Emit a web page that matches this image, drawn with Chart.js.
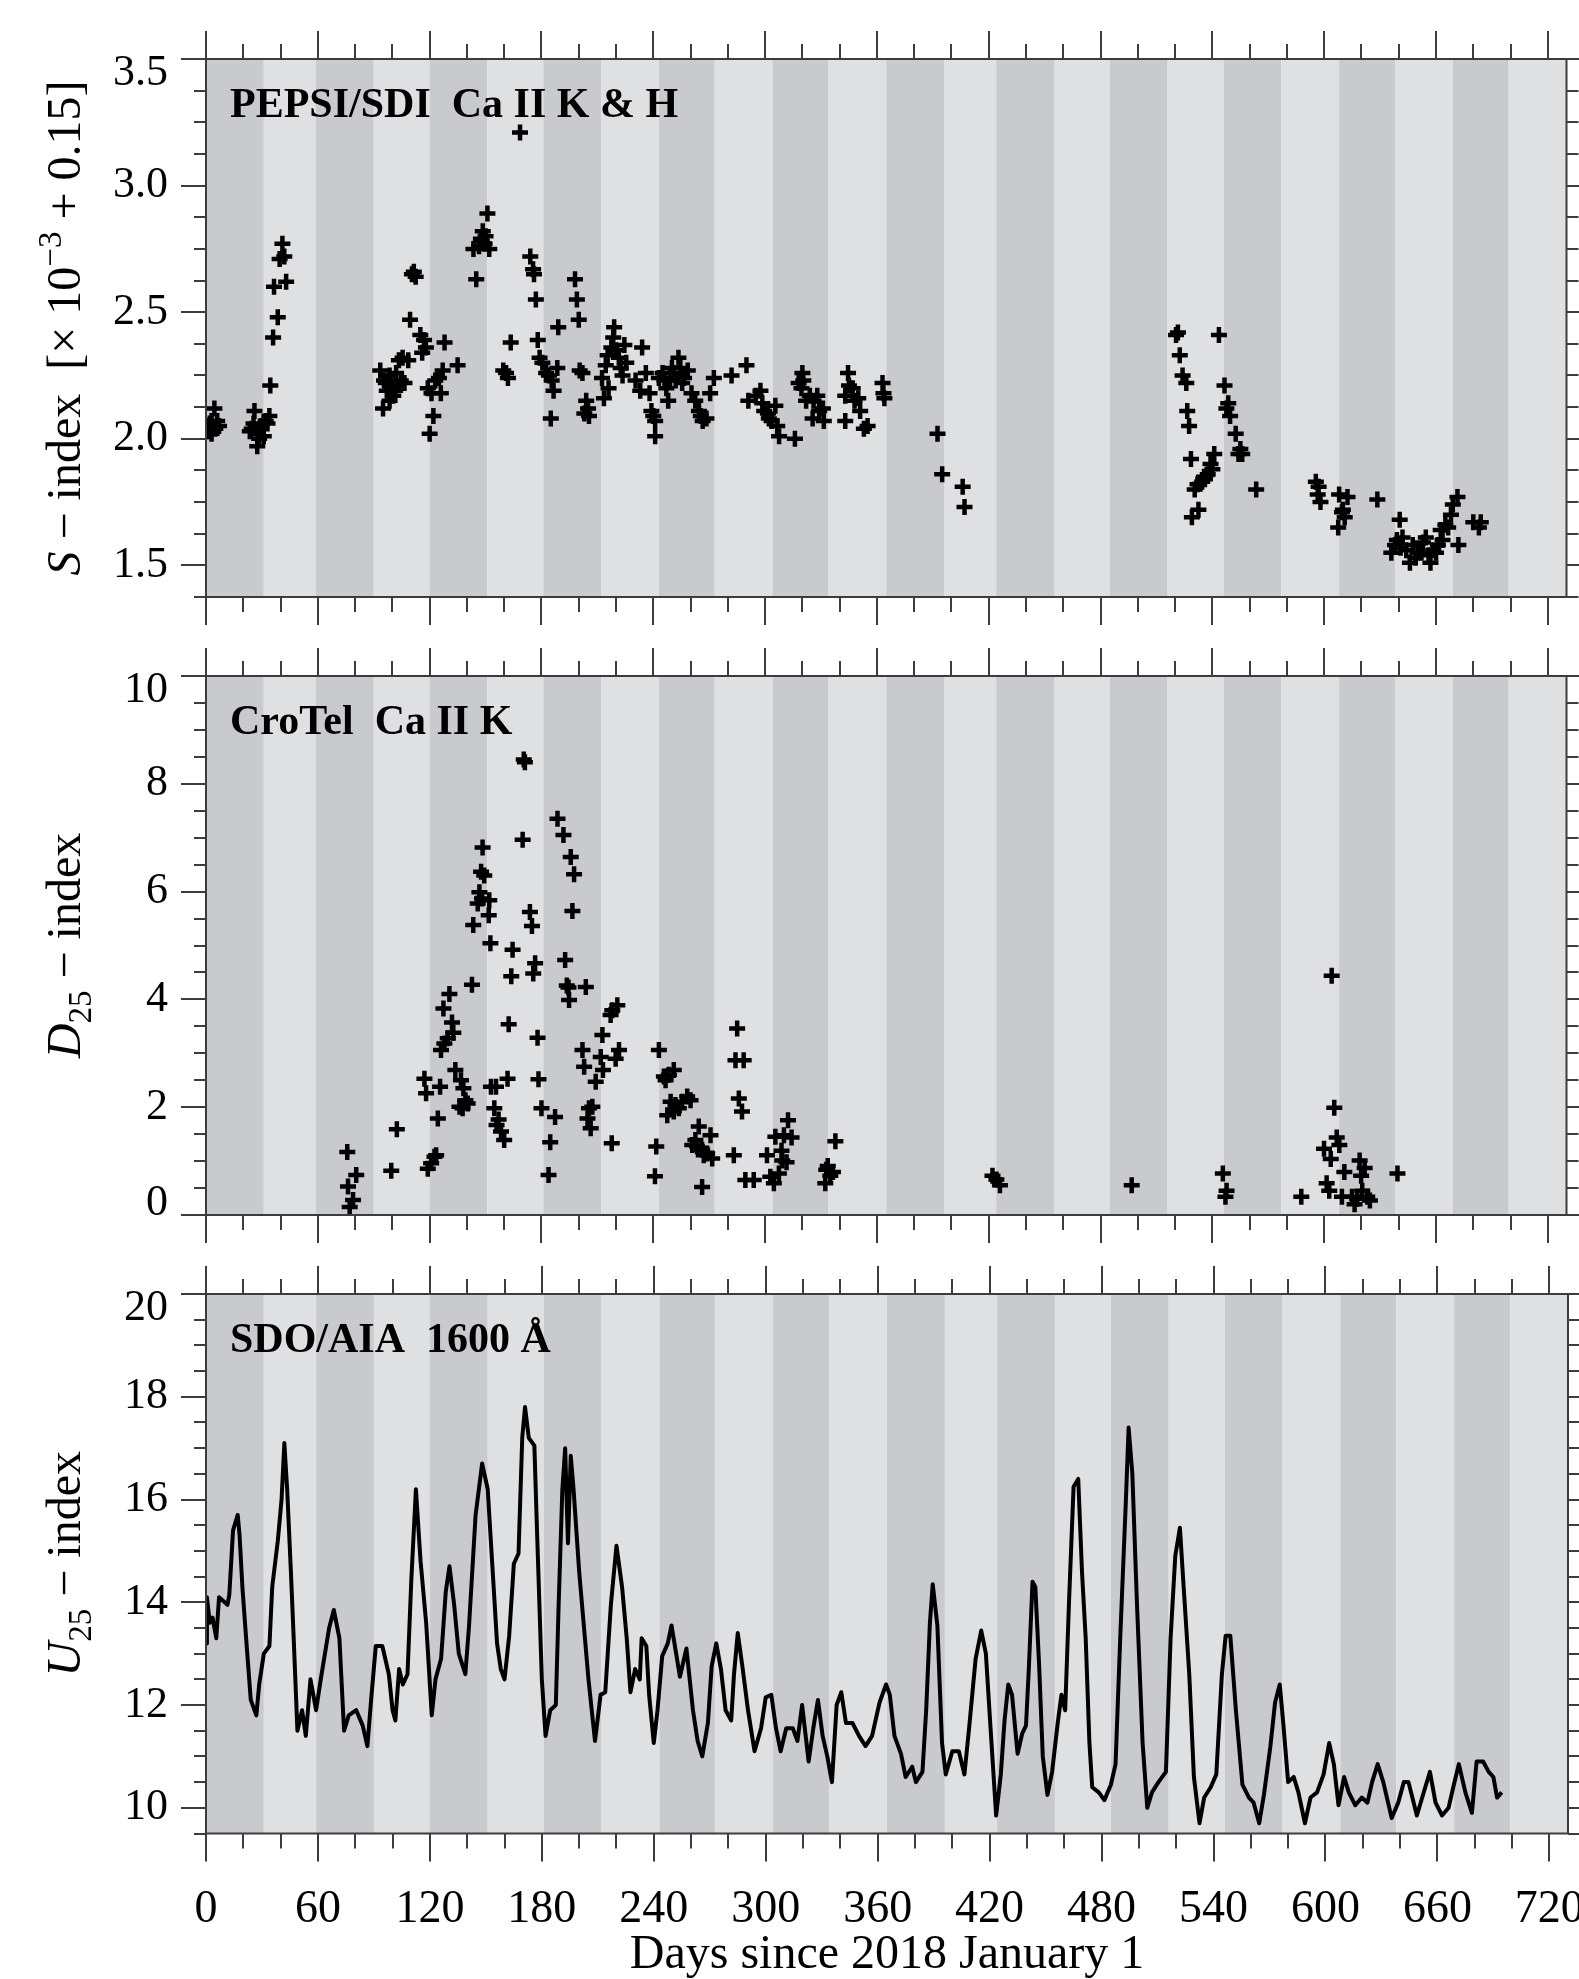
<!DOCTYPE html>
<html>
<head>
<meta charset="utf-8">
<title>S, D25 and U25 indices</title>
<script src="https://cdn.jsdelivr.net/npm/chart.js@4.4.1/dist/chart.umd.min.js"></script>
<style>
  html, body { margin: 0; padding: 0; background: #fff; }
  body { width: 1579px; height: 1979px; position: relative; overflow: hidden; }
  canvas { position: absolute; left: 0; }
</style>
</head>
<body>
<canvas id="chartS" width="1579" height="640" style="top:0px"></canvas>
<canvas id="chartD" width="1579" height="620" style="top:640px"></canvas>
<canvas id="chartU" width="1579" height="719" style="top:1260px"></canvas>
<script>
// month edges (days since 2018 Jan 1) for the grey bands
const monthEdges = [0, 31, 59, 90, 120, 151, 181, 212, 243, 273, 304, 334, 365,
  396, 424, 455, 485, 516, 546, 577, 608, 638, 669, 699, 730];

// x axis tick labels
const xTicks = [0, 60, 120, 180, 240, 300, 360, 420, 480, 540, 600, 660, 720];
const xTickLabels = ['0', '60', '120', '180', '240', '300', '360', '420', '480', '540', '600', '660', '720'];

// y axis ticks per panel
const sTicks = [1.5, 2.0, 2.5, 3.0, 3.5];
const sTickLabels = ['1.5', '2.0', '2.5', '3.0', '3.5'];
const dTicks = [0, 2, 4, 6, 8, 10];
const dTickLabels = ['0', '2', '4', '6', '8', '10'];
const uTicks = [10, 12, 14, 16, 18, 20];
const uTickLabels = ['10', '12', '14', '16', '18', '20'];

// PEPSI/SDI S-index [day, value]
const pepsiS = [
  [0,2.03],[1,2.05],[2,2.03],[2,2.06],[3,2.07],[3,2.02],[4.5,2.12],[5,2.04],[6,2.07],[7,2.05],
  [23.5,2.03],[24.5,2.04],[25.5,2.06],[26,2.11],[27.5,2.02],[27.5,1.97],[28.5,2.0],[29.5,2.05],[31,2.01],[32,2.07],[33,2.06],[34,2.09],
  [34.5,2.21],[36,2.40],[36.5,2.60],[38.5,2.48],[39.5,2.71],[41,2.77],[42,2.72],[43,2.62],
  [93.5,2.27],[95,2.12],[95.5,2.23],[96.5,2.22],[97,2.19],[98.5,2.25],[98.5,2.15],[99.5,2.21],[100.5,2.2],[100.5,2.17],
  [101.5,2.19],[102,2.26],[103.5,2.31],[104.5,2.23],[105.5,2.32],[106.5,2.22],[108.5,2.31],[109.5,2.47],[110.5,2.65],[111.5,2.66],
  [112.5,2.64],[115,2.41],[116,2.34],[117,2.39],[118,2.36],[119,2.2],[120,2.02],[121,2.18],[122,2.09],[123,2.23],
  [125,2.24],[126,2.18],[127,2.27],[128,2.38],[135,2.29],
  [143.5,2.75],[145,2.63],[146.5,2.76],[147.5,2.79],[148,2.78],[148.5,2.82],[149.5,2.77],[150,2.8],[151,2.89],[152,2.75],
  [159.5,2.27],[161,2.26],[162,2.24],[163.5,2.38],[168.5,3.21],
  [174,2.72],[175.5,2.67],[176,2.65],[177,2.55],[178,2.39],[179,2.32],[180.5,2.3],[182.5,2.26],[184,2.25],[185,2.08],
  [185.5,2.23],[186.5,2.19],[188.5,2.28],[189,2.44],
  [198,2.63],[199,2.55],[200,2.47],[200.5,2.27],[202,2.26],[203,2.1],[204,2.15],[205,2.12],[205.5,2.09],
  [212.5,2.24],[213.5,2.16],[214.5,2.29],[215.5,2.33],[216,2.2],[217.5,2.36],[218.5,2.40],[219,2.44],[220,2.35],[221.5,2.32],
  [222.5,2.28],[223.5,2.25],[224.5,2.37],[225.5,2.3],
  [230.5,2.23],[233,2.19],[234,2.36],[236,2.26],[238,2.18],[239,2.11],[240,2.09],[241,2.07],[241,2.01],
  [243,2.24],[245,2.26],[246,2.23],[247,2.2],[248,2.15],[249,2.24],[250,2.28],[251,2.26],[252,2.23],[253.5,2.32],
  [254.5,2.28],[255.5,2.22],[256.5,2.24],[258.5,2.27],
  [260.5,2.18],[262.5,2.15],[264.5,2.11],[265.5,2.09],[266.5,2.07],[268.5,2.08],[270.5,2.18],[272.5,2.24],
  [282,2.25],[290,2.29],[291,2.15],[295,2.17],[297.5,2.19],[298.5,2.14],[299.5,2.11],[301.5,2.1],[302,2.08],[303.5,2.07],
  [305.5,2.13],[306.5,2.05],[307.5,2.01],
  [316,2.0],[318,2.22],[319.5,2.2],[320,2.26],[320.5,2.23],[322,2.15],[324,2.17],[325.5,2.08],[326,2.15],[328,2.17],
  [329,2.11],[331,2.12],[331.5,2.07],
  [343,2.17],[343,2.07],[344.5,2.26],[345,2.21],[347,2.2],[348,2.15],[350,2.16],[351,2.11],[353,2.04],[355,2.05],
  [363,2.22],[363.5,2.18],[364,2.16],
  [392.5,2.02],[395,1.86],[406,1.81],[407,1.73],
  [520.5,2.41],[521.5,2.42],[522.5,2.33],[524,2.25],[526,2.22],[526.5,2.11],[527.5,2.05],[528.5,1.92],[529,1.69],[530.5,1.8],
  [532,1.82],[532.5,1.72],[534.5,1.83],[535.5,1.85],[536,1.84],[537.5,1.86],[539,1.9],[540,1.88],[541,1.94],
  [543.5,2.41],[546.5,2.21],[547.5,2.12],[548.5,2.14],[549.5,2.09],[552.5,2.02],[554,1.94],[555,1.96],[556,1.94],[563.5,1.8],
  [595.5,1.83],[596.5,1.78],[597,1.81],[598,1.75],[607.5,1.65],[608,1.78],[609.5,1.71],[610,1.72],[611,1.69],[612.5,1.77],[628.5,1.76],
  [636,1.55],[638,1.58],[639,1.6],[640.5,1.68],[641,1.57],[642,1.61],[644,1.56],[646,1.51],[647.5,1.58],[649,1.53],
  [650,1.55],[652,1.55],[653,1.59],[654.5,1.61],[656,1.54],[657,1.51],[658.5,1.56],[660,1.55],[661,1.58],[662.5,1.64],
  [663.5,1.6],[665,1.66],[666.5,1.65],[668,1.7],[669,1.74],[671.5,1.77],[672,1.58],[680,1.67],[683,1.65],[684,1.67]
];

// CroTel D25-index [day, value]
const crotelD = [
  [75.8,1.17],[76.2,0.53],[77.1,0.15],[78.9,0.28],[80.6,0.74],
  [99.4,0.82],[102.4,1.59],
  [117.2,2.53],[118.1,2.26],[119,0.86],[120.8,0.96],[122.6,1.08],[123.5,1.11],[124.4,1.79],[125.6,2.38],
  [126.1,3.06],[127.4,3.83],[127.9,3.18],[129.7,3.28],[130.6,4.1],[132,3.57],[132.7,3.38],
  [133.8,2.69],[136,2.01],[136.8,2.5],[137.7,1.98],[138.1,2.35],[139.2,2.13],[140.4,2.07],
  [142.7,4.27],[143.4,5.38],[145.8,5.78],[146.7,5.99],[147.6,6.37],[148.1,5.87],[148.4,6.82],[149.3,6.3],[151.7,5.56],[152,5.84],[152.6,5.04],
  [152.9,2.38],[154.7,1.98],[155.6,2.38],[155.9,1.67],[157,1.77],[158.3,1.55],[160,1.39],[161.8,2.53],
  [162.4,3.54],[163.8,4.43],[164.5,4.92],[169.9,6.96],[170.5,8.45],[171.1,8.4],
  [173.8,5.62],[174.9,5.36],[175.6,4.48],[176.6,4.67],[177.9,3.29],[178.4,2.52],[180,1.98],[183.8,0.74],[184.7,1.35],[187.3,1.82],
  [188.6,7.35],[191.8,7.05],[192.7,4.73],[193.6,4.26],[194.5,4.22],[194.8,3.99],[195.7,6.64],[196.6,5.64],[197.5,6.32],
  [202,3.06],[202.9,2.75],[203.8,4.23],[204.7,1.79],[205.5,1.98],[206.4,1.61],[207.3,2.01],[209.1,2.47],[211.8,2.93],
  [212.7,3.34],[213,2.69],[217.1,3.71],[217.7,1.33],[218,3.8],[219.8,2.9],[220.7,3.89],[221.6,3.06],
  [240.9,0.72],[241.6,1.27],[243,3.06],
  [245.7,2.57],[246.6,2.5],[247.5,1.85],[248.4,2.6],[249.3,2.1],[251,2.69],[251,1.92],[251.9,2.04],[253.7,1.98],[255.5,2.1],[258.2,2.2],[260,2.13],
  [260.9,1.3],[262.6,1.39],[263.5,1.27],[264.4,1.64],[266.2,1.21],[266.2,0.52],[267.1,1.11],[268.9,1.14],[270.7,1.48],[271.6,1.05],
  [283.2,1.11],[284.1,2.87],[285,3.46],[285.9,2.16],[287.6,1.92],[288.5,2.87],
  [289.4,0.65],[293.9,0.65],[301,1.11],[302.8,0.71],[304.7,0.59],[305.5,1.45],[307.4,0.77],[308.8,1.19],[309.2,1.01],
  [310.1,1.48],[311.5,0.98],[312.3,1.76],[314.2,1.44],
  [332.3,0.59],[332.8,0.84],[333.6,0.91],[335,0.73],[336.4,0.8],[337.7,1.37],
  [422,0.73],[424.1,0.66],[426,0.55],
  [496.7,0.55],
  [545.6,0.77],[547,0.34],[547.6,0.45],
  [587.7,0.34],
  [599.9,1.23],[601.3,0.59],[602.7,0.45],[603.5,1.04],[604,4.44],[605.4,1.99],[606.7,1.44],[608.1,1.3],[609.5,0.34],[610.8,0.8],
  [614.9,0.34],[616.3,0.2],[617.7,0.3],[619,1.01],[619.8,0.73],[620.4,0.45],[621.7,0.87],[623.1,0.34],[624.5,0.27],[639.3,0.77]
];

// SDO/AIA 1600 A U25-index [day, value]
const aiaU = [
  [0,13.2],[0.5,14.1],[2,13.6],[3.5,13.7],[5.5,13.3],[7,14.1],[10,14.0],[11.5,13.95],[12.5,14.15],[14.5,15.4],
  [17,15.7],[18,15.3],[19.5,14.3],[21.5,13.3],[24,12.1],[27,11.8],[28.5,12.4],[31,13.0],[34,13.15],[35.5,14.3],
  [38.5,15.2],[40.5,16.0],[42,17.1],[43.5,16.2],[45.5,14.6],[47,13.3],[49,11.5],[51.5,11.9],[53.5,11.4],[56,12.5],
  [59,11.9],[61.5,12.5],[66,13.5],[68.5,13.85],[71.5,13.3],[74,11.5],[76.5,11.8],[80.5,11.9],[84,11.6],[86.5,11.2],
  [88.5,12.1],[91,13.15],[94.5,13.15],[98,12.6],[100,11.9],[101.5,11.7],[103.5,12.7],[105.5,12.4],[108,12.6],[110,14.4],
  [112.5,16.2],[115,14.8],[118,13.6],[121,11.8],[123,12.5],[126,12.9],[128.5,14.2],[130.5,14.7],[133,13.95],[135.5,13.0],
  [139,12.6],[141,13.55],[144.5,15.7],[148,16.7],[151,16.2],[153.5,14.7],[156,13.2],[158,12.7],[160,12.5],[162.5,13.35],
  [165,14.75],[167.5,14.95],[169.5,17.2],[171,17.8],[173,17.2],[176,17.05],[177.5,15.3],[180,12.5],[182,11.4],[184.5,11.9],
  [187.5,12.0],[189,13.95],[191,16.2],[192.5,17.0],[194,15.15],[195.5,16.85],[197,16.2],[200,14.6],[202.5,13.55],[205,12.5],
  [208.5,11.3],[211.5,12.2],[214,12.25],[217,13.95],[220,15.1],[223,14.3],[225.5,13.3],[227.5,12.25],[230,12.7],
  [232.5,12.5],[233.5,13.3],[236,13.15],[237.5,12.2],[240,11.26],[242,11.9],[244.5,12.95],[247.5,13.2],[249.5,13.55],[252,13.0],
  [254,12.55],[257.5,13.1],[261,11.9],[263.5,11.3],[266,11.0],[269,11.65],[271,12.75],[273.5,13.2],[276,12.7],[278.5,11.9],
  [281.5,11.7],[283,12.6],[285,13.4],[287.5,12.75],[290.5,11.9],[294,11.1],[297.5,11.55],[300,12.15],[303,12.2],[305.5,11.55],
  [308,11.1],[311,11.55],[314.5,11.55],[317,11.3],[319.5,12.0],[323,10.9],[325.5,11.55],[328,12.1],[330.5,11.4],[333,11.0],
  [335.5,10.5],[338,12.0],[340.5,12.25],[343,11.65],[346.5,11.65],[350,11.4],[353.5,11.2],[357,11.4],[361,12.05],[364.5,12.4],
  [366.5,12.2],[369,11.4],[372.5,11.05],[375,10.6],[378.5,10.8],[380.5,10.5],[384,10.7],[386,11.9],[388,13.6],[389.5,14.35],
  [392,13.55],[394.5,11.26],[396.5,10.65],[400,11.1],[403.5,11.1],[406.5,10.65],[409,11.55],[412.5,12.9],[415.5,13.45],[418,13.0],
  [420.5,11.55],[423.5,9.85],[426,10.65],[428,11.7],[430,12.4],[432,12.2],[435,11.05],[437.5,11.45],[439.5,11.6],[441,12.7],
  [443,14.4],[444.5,14.3],[446.5,12.8],[448.5,11.0],[451,10.25],[453.5,10.7],[456.5,11.65],[458.5,12.2],[460.5,11.9],[462.5,13.95],
  [465,16.25],[467.5,16.4],[469.5,14.6],[471.5,13.3],[473.5,11.26],[475,10.4],[478.5,10.3],[481.5,10.15],[485,10.45],[487.5,10.85],
  [490,13.3],[493,15.95],[494.5,17.4],[496.5,16.5],[499,13.95],[502,11.26],[504.5,10.0],[507,10.3],[510.5,10.5],[514.5,10.7],
  [517,13.3],[519.5,14.9],[522,15.45],[524,14.3],[527,12.6],[529.5,10.6],[532.5,9.7],[535,10.2],[538.5,10.4],[541.5,10.65],
  [544.5,12.6],[546.5,13.35],[549,13.35],[552,11.9],[555.5,10.45],[559,10.2],[561.5,10.1],[564.5,9.7],[567,10.25],[570.5,11.2],
  [573,12.05],[575.5,12.4],[577.5,11.6],[580,10.5],[583,10.6],[585.5,10.3],[589,9.7],[592,10.2],[595.5,10.3],[599,10.65],
  [602,11.26],[604.5,10.85],[607,10.05],[610,10.6],[612.5,10.3],[616,10.05],[619.5,10.2],[622.5,10.1],[625,10.5],[628,10.85],
  [631,10.5],[635.5,9.8],[639,10.1],[642,10.5],[644.5,10.5],[649,9.85],[653.5,10.4],[656,10.7],[659,10.1],[662.5,9.85],
  [666,10.0],[668.5,10.4],[671.5,10.85],[675,10.3],[678.5,9.9],[681,10.9],[684.5,10.9],[687.5,10.7],[690,10.6],[692,10.2],[694.5,10.3]
];

const SERIF = '"Liberation Serif", "Times New Roman", serif';
const AXIS = '#3c3c3c';
const BAND_DARK = '#c9cacd';
const BAND_LIGHT = '#dfe0e2';

// rotated axis title with italic / sub / sup pieces
function drawRich(ctx, parts, cx, cy, size) {
  const fontOf = s => (s === 'i' ? 'italic ' : '') +
    Math.round(s === 'sub' || s === 'sup' ? size * 0.68 : size) + 'px ' + SERIF;
  let w = 0;
  parts.forEach(([t, s]) => { ctx.font = fontOf(s); w += ctx.measureText(t).width; });
  ctx.save();
  ctx.translate(cx, cy);
  ctx.rotate(-Math.PI / 2);
  ctx.textAlign = 'left';
  ctx.textBaseline = 'alphabetic';
  let px = -w / 2;
  parts.forEach(([t, s]) => {
    ctx.font = fontOf(s);
    const dy = s === 'sub' ? size * 0.22 : s === 'sup' ? -size * 0.4 : 0;
    ctx.fillText(t, px, dy);
    px += ctx.measureText(t).width;
  });
  ctx.restore();
}

const panelPlugin = {
  id: 'panel',
  beforeDraw(chart) {
    const {ctx, chartArea: a, scales: {x}} = chart;
    ctx.save();
    for (let i = 0; i < monthEdges.length - 1; i++) {
      const x0 = x.getPixelForValue(monthEdges[i]);
      const x1 = x.getPixelForValue(monthEdges[i + 1]);
      ctx.fillStyle = i % 2 === 0 ? BAND_DARK : BAND_LIGHT;
      ctx.fillRect(x0, a.top, x1 - x0, a.bottom - a.top);
    }
    ctx.restore();
  },
  afterDraw(chart, args, o) {
    const {ctx, chartArea: a, scales: {x, y}} = chart;
    ctx.save();
    ctx.strokeStyle = AXIS;
    ctx.lineWidth = 2;
    ctx.strokeRect(a.left, a.top, a.right - a.left, a.bottom - a.top);

    ctx.beginPath();
    // x ticks, outward on top and bottom
    for (let d = 0; d <= 720; d += 20) {
      const px = Math.round(x.getPixelForValue(d));
      const len = d % 60 === 0 ? 28 : 15;
      ctx.moveTo(px, a.top); ctx.lineTo(px, a.top - len);
      ctx.moveTo(px, a.bottom); ctx.lineTo(px, a.bottom + len);
    }
    // y ticks, outward on left and right
    const n = Math.round((o.yMax - o.yMin) / o.minor);
    for (let k = 0; k <= n; k++) {
      const v = o.yMin + k * o.minor;
      const py = Math.round(y.getPixelForValue(v));
      const major = o.ticks.some(t => Math.abs(t - v) < 1e-6);
      const len = major ? 25 : 12;
      ctx.moveTo(a.left, py); ctx.lineTo(a.left - len, py);
      ctx.moveTo(a.right, py); ctx.lineTo(a.right + len, py);
    }
    ctx.stroke();

    ctx.fillStyle = '#000';
    // y tick labels
    ctx.font = o.yFont + 'px ' + SERIF;
    ctx.textAlign = 'right';
    ctx.textBaseline = 'middle';
    o.ticks.forEach((t, i) => {
      let py = y.getPixelForValue(t);
      if (Math.abs(t - o.yMax) < 1e-6) py += 14;
      if (Math.abs(t - o.yMin) < 1e-6) py -= 12;
      ctx.fillText(o.labels[i], a.left - 38, py);
    });

    // x tick labels and title on the bottom panel only
    if (o.xLabels) {
      ctx.font = '46px ' + SERIF;
      ctx.textAlign = 'center';
      ctx.textBaseline = 'alphabetic';
      xTicks.forEach((t, i) => ctx.fillText(xTickLabels[i], x.getPixelForValue(t), a.bottom + 88));
      ctx.font = '48px ' + SERIF;
      ctx.fillText('Days since 2018 January 1', (a.left + a.right) / 2, a.bottom + 134);
    }

    // panel label
    ctx.font = 'bold 42px ' + SERIF;
    ctx.textAlign = 'left';
    ctx.textBaseline = 'alphabetic';
    ctx.fillText(o.name, a.left + 24, a.top + 58);

    // y axis title
    drawRich(ctx, o.title, 80, (a.top + a.bottom) / 2, o.titleSize);
    ctx.restore();
  }
};

function makePanel(id, dataset, padTop, padBottom, p) {
  return new Chart(document.getElementById(id), {
    data: { datasets: [dataset] },
    options: {
      responsive: false,
      animation: false,
      events: [],
      layout: { padding: { left: 206, right: 11, top: padTop, bottom: padBottom } },
      scales: {
        x: { type: 'linear', min: 0, max: 730, display: false },
        y: { type: 'linear', min: p.yMin, max: p.yMax, display: false }
      },
      plugins: { legend: { display: false }, tooltip: { enabled: false }, panel: p }
    },
    plugins: [panelPlugin]
  });
}

const crossStyle = {
  type: 'scatter',
  pointStyle: 'cross',
  pointRadius: 8,
  pointBorderWidth: 4.5,
  borderColor: '#000',
  backgroundColor: '#000',
  showLine: false
};

makePanel('chartS', Object.assign({
  data: pepsiS.map(([d, v]) => ({ x: d, y: v }))
}, crossStyle), 59, 43, {
  yMin: 1.375, yMax: 3.5, minor: 0.125, ticks: sTicks, labels: sTickLabels, yFont: 44,
  name: 'PEPSI/SDI  Ca II K & H',
  title: [['S', 'i'], [' \u2212 index  [\u00d7 10', ''], ['\u22123', 'sup'], [' + 0.15]', '']],
  titleSize: 48
});

makePanel('chartD', Object.assign({
  data: crotelD.map(([d, v]) => ({ x: d, y: v }))
}, crossStyle), 36, 45, {
  yMin: 0, yMax: 10, minor: 0.5, ticks: dTicks, labels: dTickLabels, yFont: 44,
  name: 'CroTel  Ca II K',
  title: [['D', 'i'], ['25', 'sub'], [' \u2212 index', '']],
  titleSize: 48
});

makePanel('chartU', {
  type: 'line',
  data: aiaU.map(([d, v]) => ({ x: d, y: v })),
  borderColor: '#000',
  borderWidth: 4,
  borderJoinStyle: 'round',
  pointRadius: 0,
  tension: 0,
  fill: false
}, 34, 145.5, {
  yMin: 9.5, yMax: 20, minor: 0.5, ticks: uTicks, labels: uTickLabels, yFont: 44,
  xLabels: true,
  name: 'SDO/AIA  1600 \u00c5',
  title: [['U', 'i'], ['25', 'sub'], [' \u2212 index', '']],
  titleSize: 48
});
</script>
</body>
</html>
